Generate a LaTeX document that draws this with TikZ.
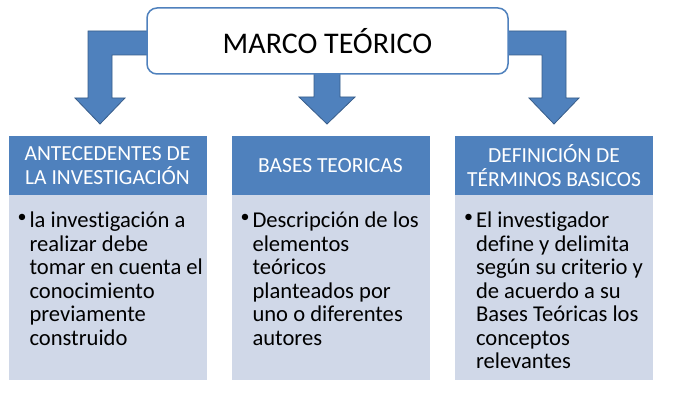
\documentclass[tikz,border=0pt]{standalone}
\usepackage{fontspec}
\setmainfont{Carlito}[Ligatures=NoCommon]
\usetikzlibrary{calc}
\definecolor{arrowblue}{RGB}{79,129,189}
\definecolor{arrowedge}{RGB}{56,93,138}
\definecolor{bodyfill}{RGB}{208,216,232}
\tikzset{
  blockarrow/.style={fill=arrowblue, draw=arrowedge, line width=0.8pt, line join=miter},
  titlebox/.style={draw=arrowblue, line width=1.5pt, fill=white, rounded corners=10pt,
    minimum width=361pt, minimum height=66pt, inner sep=0pt,
    font=\fontsize{30}{36}\selectfont},
  headbox/.style={fill=arrowblue, minimum width=198pt, minimum height=59pt, inner sep=0pt,
    text=white, align=center, font=\fontsize{21.5}{23.5}\selectfont},
  bodybox/.style={fill=bodyfill, minimum width=198pt, minimum height=185pt, inner sep=0pt},
  bodytext/.style={anchor=north west, inner sep=0pt, align=left,
    font=\fontsize{22.6}{23.5}\selectfont},
  bulletmark/.style={anchor=north west, inner sep=0pt, font=\fontsize{18}{23.5}\selectfont}
}
\begin{document}
\begin{tikzpicture}[x=1pt,y=-1pt]
\useasboundingbox[fill=white] (0,0) rectangle (700,414);
% block arrows
\draw[blockarrow] (200,31) -- (88,31) -- (88,98) -- (75,98) -- (100,124) -- (125,98) -- (112,98) -- (112,55) -- (200,55) -- cycle;
\draw[blockarrow] (450,31) -- (566,31) -- (566,98) -- (579,98) -- (554,124) -- (529,98) -- (542,98) -- (542,55) -- (450,55) -- cycle;
\draw[blockarrow] (314,60) -- (314,97) -- (299,97) -- (327,124) -- (355,97) -- (340,97) -- (340,60) -- cycle;
% title
\node[titlebox] (title) at (327.5,41) {MARCO TEÓRICO};
% columns
\node[headbox] (h1) at (107.5,165.5) {ANTECEDENTES DE\\LA INVESTIGACIÓN};
\node[headbox] (h2) at (330.5,165.5) {BASES TEORICAS};
\node[headbox] (h3) at (554,165.5) {DEFINICIÓN DE\\TÉRMINOS BASICOS};
\node[bodybox, anchor=north] (b1) at (h1.south) {};
\node[bodybox, anchor=north] (b2) at (h2.south) {};
\node[bodybox, anchor=north] (b3) at (h3.south) {};
% bullets and text
\node[bulletmark] (d1) at ($(b1.north west)+(9,19)$) {\textbullet};
\node[bodytext] (t1) at ($(b1.north west)+(21,16.5)$) {la investigación a\\realizar debe\\tomar en cuenta el\\conocimiento\\previamente\\construido};
\node[bulletmark] (d2) at ($(b2.north west)+(9,19)$) {\textbullet};
\node[bodytext] (t2) at ($(b2.north west)+(21,16.5)$) {Descripción de los\\elementos\\teóricos\\planteados por\\uno o diferentes\\autores};
\node[bulletmark] (d3) at ($(b3.north west)+(9,19)$) {\textbullet};
\node[bodytext] (t3) at ($(b3.north west)+(21,16.5)$) {El investigador\\define y delimita\\según su criterio y\\de acuerdo a su\\Bases Teóricas los\\conceptos\\relevantes};
\end{tikzpicture}
\end{document}
